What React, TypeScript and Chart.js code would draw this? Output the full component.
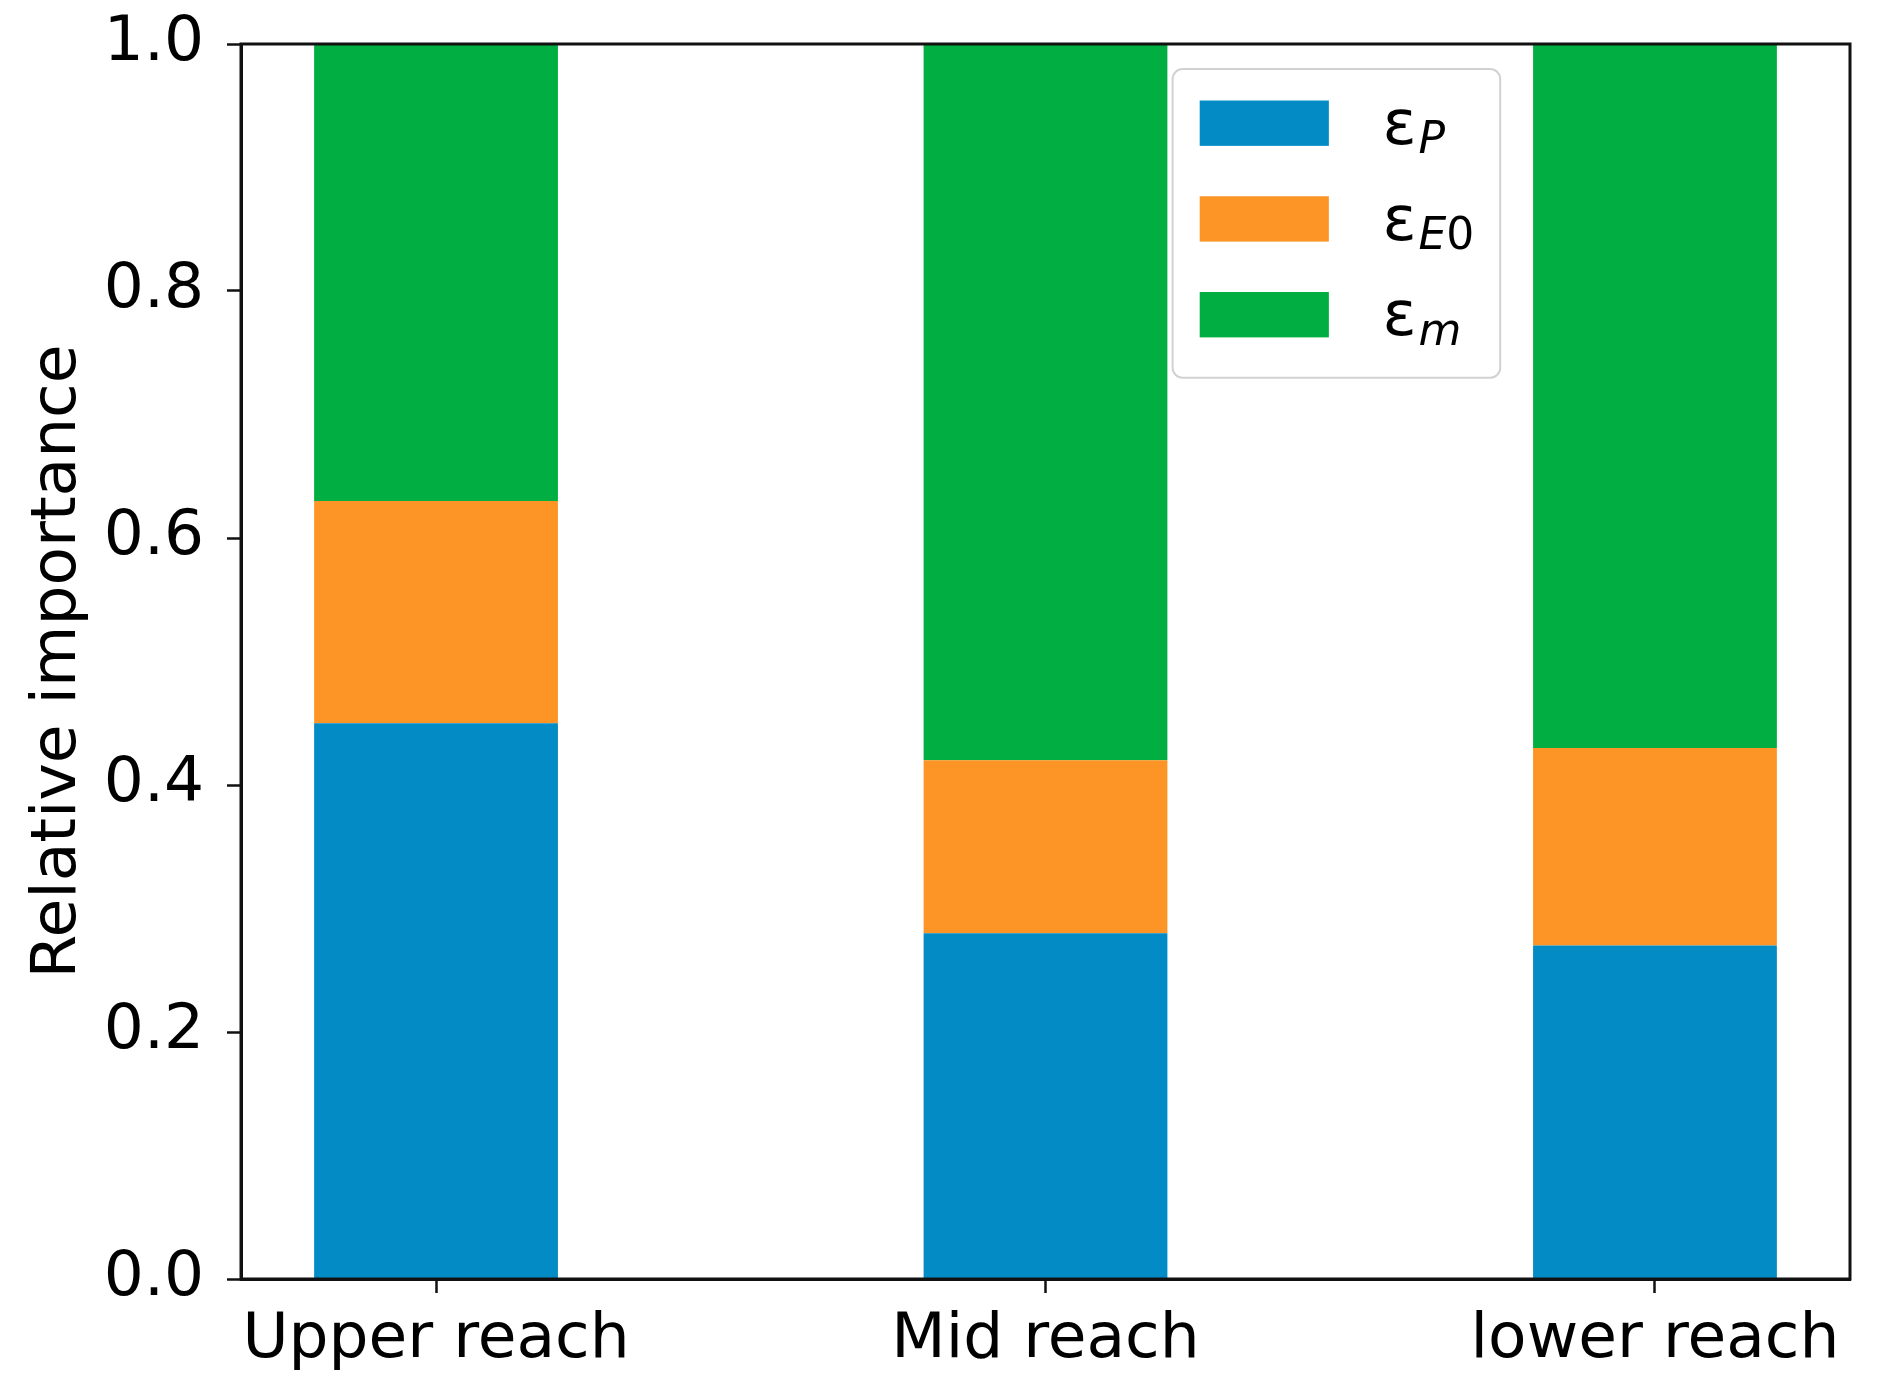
import { Chart, ChartConfiguration, Plugin, registerables } from "chart.js";
import { useEffect, useState } from "react";

Chart.register(...registerables);

const _reaches = ["Upper reach", "Mid reach", "lower reach"];
const _reachPositions = [0, 1, 2];
const _epsP = [0.45, 0.28, 0.27];
const _epsE0 = [0.18, 0.14, 0.16];
const _epsM = [0.37, 0.58, 0.57];
const _yTicks = [0, 0.2, 0.4, 0.6, 0.8, 1.0];
const _seriesSubscripts = ["P", "E0", "m"];
const _colours = ["#028bc4", "#fc9426", "#00ae41"];

const FONT = "'DejaVu Sans', sans-serif";
const FONT_SIZE = 63;
const INK = "#111111";

// spines on all four sides, drawn over the bars like matplotlib does
const framePlugin: Plugin<"bar"> = {
  id: "frame",
  afterDatasetsDraw(chart) {
    const { ctx, chartArea } = chart;
    ctx.save();
    ctx.strokeStyle = INK;
    ctx.lineWidth = 3;
    ctx.strokeRect(chartArea.left, chartArea.top, chartArea.right - chartArea.left, chartArea.bottom - chartArea.top);
    ctx.restore();
  }
};

// legend with epsilon + italic subscript, the built-in one can't do subscripts
const legendPlugin: Plugin<"bar"> = {
  id: "mplLegend",
  afterDraw(chart) {
    const { ctx, chartArea } = chart;
    const em = FONT_SIZE;
    const w = chartArea.right - chartArea.left;
    const boxLeft = chartArea.left + w * 0.579;
    const boxTop = chartArea.top + 25;
    const boxW = 5.2 * em;
    const boxH = 4.9 * em;
    const rowGap = 1.52 * em;

    ctx.save();
    ctx.beginPath();
    ctx.roundRect(boxLeft, boxTop, boxW, boxH, 10);
    ctx.fillStyle = "rgba(255,255,255,0.8)";
    ctx.fill();
    ctx.strokeStyle = "#d2d2d2";
    ctx.lineWidth = 2;
    ctx.stroke();

    chart.data.datasets.forEach((ds, i) => {
      const cy = boxTop + 0.86 * em + i * rowGap;
      ctx.fillStyle = ds.backgroundColor as string;
      ctx.fillRect(boxLeft + 0.43 * em, cy - 0.36 * em, 2.05 * em, 0.72 * em);

      let x = boxLeft + 3.33 * em;
      const base = cy + 0.33 * em;
      ctx.fillStyle = "#000";
      ctx.textBaseline = "alphabetic";
      ctx.textAlign = "left";
      ctx.font = `${em}px ${FONT}`;
      ctx.fillText("ε", x, base);
      x += ctx.measureText("ε").width + 2;

      const subSize = Math.round(em * 0.7);
      for (const ch of _seriesSubscripts[i]) {
        ctx.font = /[0-9]/.test(ch) ? `${subSize}px ${FONT}` : `italic ${subSize}px ${FONT}`;
        ctx.fillText(ch, x, base + 0.15 * em);
        x += ctx.measureText(ch).width;
      }
    });
    ctx.restore();
  }
};

// keep the plot area where the padding says, ignore label overhang
function noOverhang(scale: any) {
  scale.paddingTop = 0;
  scale.paddingBottom = 0;
  scale.paddingLeft = 0;
  scale.paddingRight = 0;
}

function RelativeImportanceChart() {
  const [canvas, setCanvas] = useState<HTMLCanvasElement | null>(null);

  useEffect(() => {
    document.body.style.margin = "0";
    if (!canvas) {
      return;
    }

    const series = [_epsP, _epsE0, _epsM];
    const names = ["εP", "εE0", "εm"];

    const config: ChartConfiguration<"bar"> = {
      type: "bar",
      data: {
        datasets: series.map((values, i) => ({
          label: names[i],
          data: values.map((v, j) => ({ x: _reachPositions[j], y: v })),
          backgroundColor: _colours[i],
          borderWidth: 0,
          barPercentage: 0.4,
          categoryPercentage: 1.0
        }))
      },
      options: {
        animation: false,
        responsive: true,
        maintainAspectRatio: false,
        layout: { padding: { top: 44, right: 27, bottom: 0, left: 0 } },
        plugins: {
          legend: { display: false },
          tooltip: { enabled: false }
        },
        scales: {
          x: {
            type: "linear",
            stacked: true,
            min: -0.32,
            max: 2.32,
            offset: false,
            grid: {
              offset: false,
              drawOnChartArea: false,
              drawTicks: true,
              tickLength: 14,
              tickWidth: 2.5,
              tickColor: INK
            },
            border: { display: true, color: INK, width: 3 },
            afterBuildTicks: (scale) => {
              scale.ticks = _reachPositions.map((v) => ({ value: v }));
            },
            afterFit: (scale) => {
              scale.height = 115;
              noOverhang(scale);
            },
            ticks: {
              callback: (_value, index) => _reaches[index],
              font: { family: FONT, size: FONT_SIZE },
              color: "#000",
              padding: 10,
              maxRotation: 0,
              autoSkip: false
            }
          },
          y: {
            stacked: true,
            min: 0,
            max: 1,
            grid: {
              drawOnChartArea: false,
              drawTicks: true,
              tickLength: 14,
              tickWidth: 2.5,
              tickColor: INK
            },
            border: { display: true, color: INK, width: 3 },
            afterBuildTicks: (scale) => {
              scale.ticks = _yTicks.map((v) => ({ value: v }));
            },
            afterFit: (scale) => {
              scale.width = 241;
              noOverhang(scale);
            },
            ticks: {
              callback: (value) => Number(value).toFixed(1),
              font: { family: FONT, size: FONT_SIZE },
              color: "#000",
              padding: 23
            },
            title: {
              display: true,
              text: "Relative importance",
              font: { family: FONT, size: FONT_SIZE },
              color: "#000",
              padding: { top: 21, bottom: 0 }
            }
          }
        }
      },
      plugins: [framePlugin, legendPlugin]
    };

    const chart = new Chart(canvas, config);

    return () => {
      chart.destroy();
    };
  }, [canvas]);

  return (
    <div style={{ width: 1877, height: 1394, position: "relative", background: "#fff" }}>
      <canvas ref={setCanvas} />
    </div>
  );
}

export default function App() {
  return <RelativeImportanceChart />;
}
